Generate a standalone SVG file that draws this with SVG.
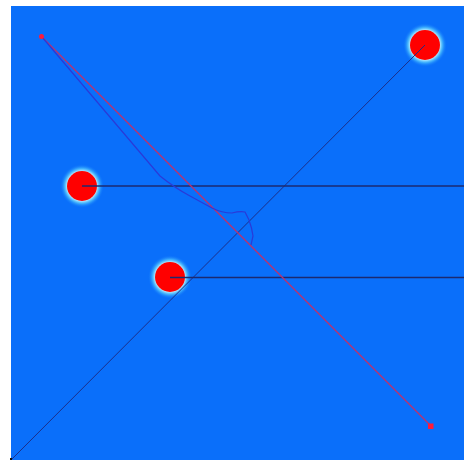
<svg xmlns="http://www.w3.org/2000/svg" width="464" height="460" viewBox="0 0 464 460">
<defs>
<radialGradient id="glow" cx="0.5" cy="0.5" r="0.5">
<stop offset="0.66" stop-color="#d8fbff" stop-opacity="0.95"/>
<stop offset="0.8" stop-color="#5fd8ff" stop-opacity="0.6"/>
<stop offset="1" stop-color="#0a6ffa" stop-opacity="0"/>
</radialGradient>
<style>
.ball{fill:#ff0000}
.halo{fill:url(#glow)}
.hl{stroke:#1c2a70;stroke-width:1.4;fill:none}
.diag{stroke:#1c2f8a;stroke-width:1;fill:none}
.red{stroke:#c0306a;stroke-width:1.2;fill:none}
.path{stroke:#2a3ad8;stroke-width:1.2;fill:none}
</style>
</defs>
<rect x="0" y="0" width="464" height="460" fill="#ffffff"/>
<rect x="11" y="6" width="453" height="454" fill="#0a6ffa"/>
<g id="ball1"><circle class="halo" cx="425" cy="45" r="22"/><circle class="ball" cx="425" cy="45" r="15"/></g>
<g id="ball2"><circle class="halo" cx="82" cy="186" r="22"/><circle class="ball" cx="82" cy="186" r="15"/></g>
<g id="ball3"><circle class="halo" cx="170" cy="277" r="22"/><circle class="ball" cx="170" cy="277" r="15"/></g>
<g id="connectors">
<line class="diag" x1="11" y1="460" x2="425" y2="45"/>
<line class="hl" x1="82" y1="186" x2="464" y2="186"/>
<line class="hl" x1="170" y1="277.5" x2="464" y2="277.5"/>
<line class="red" x1="41" y1="36" x2="431" y2="426"/>
<path class="path" d="M42 37 L160 176 Q175 188 190 196 L212 208 Q222 213 232 213 Q240 211 245 212 L249 220 Q252 228 253 236 L251 245"/>
</g>
<g id="start"><circle cx="41.5" cy="36.5" r="2.5" fill="#ff1a3a"/></g>
<g id="end"><rect x="428" y="423.5" width="5.5" height="5.5" fill="#ff1a3a"/></g>
<g id="origin"><rect x="10" y="458" width="2" height="2" fill="#111"/></g>
</svg>
